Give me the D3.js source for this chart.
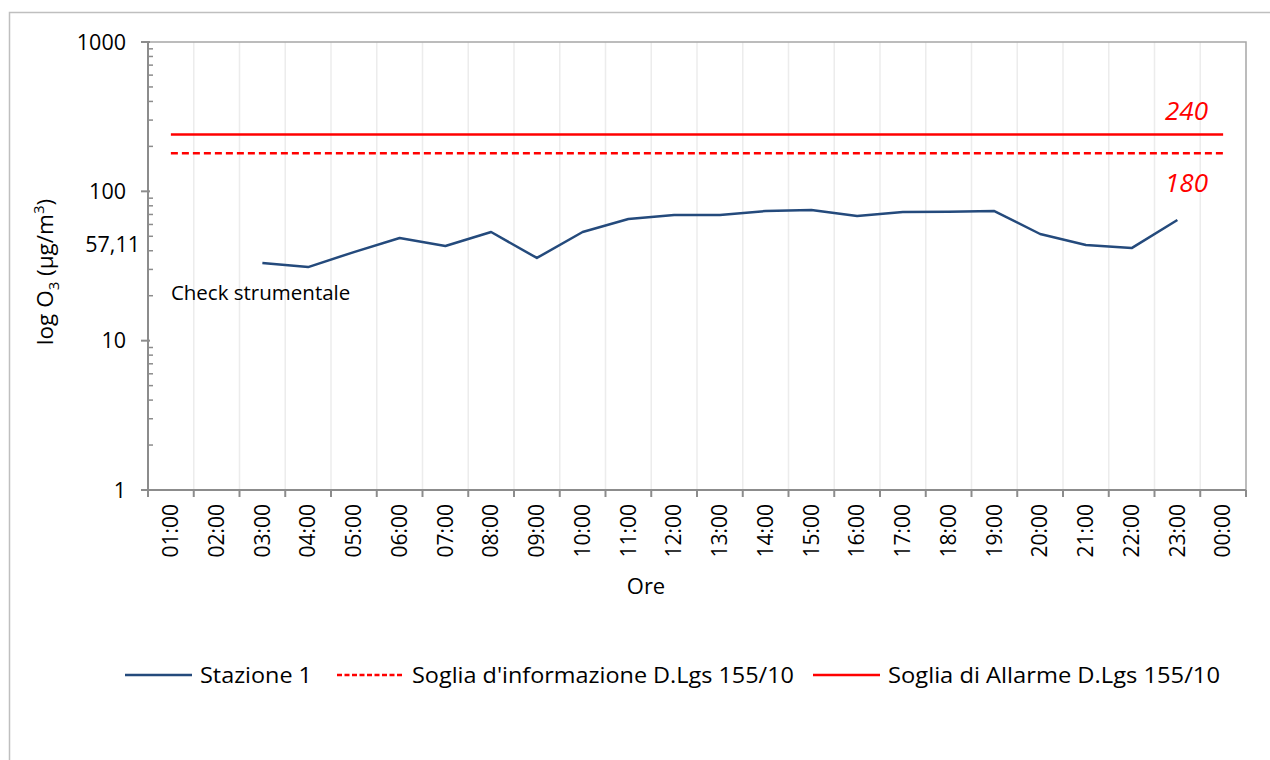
<!DOCTYPE html>
<html>
<head>
<meta charset="utf-8">
<script src="https://cdn.jsdelivr.net/npm/d3@7"></script>
<style>
  body { margin: 0; background: #fff; }
  svg { display: block; font-family: "Open Sans", sans-serif; }
</style>
</head>
<body>
<div id="chart"></div>
<script>
// ozone hourly values, log scale chart

var hours = ["01:00","02:00","03:00","04:00","05:00","06:00","07:00","08:00","09:00","10:00","11:00","12:00",
             "13:00","14:00","15:00","16:00","17:00","18:00","19:00","20:00","21:00","22:00","23:00","00:00"];

// null = no data (instrument check)
var stazione1 = [null, null, 33.1, 31.1, 39.2, 48.7, 43.0, 53.4, 35.8, 53.4, 65.3, 69.4,
                 69.4, 73.8, 75.0, 68.4, 72.7, 73.0, 73.8, 51.8, 43.7, 41.7, 64.3, null];

var sogliaInfo = 180,
    sogliaAllarme = 240,
    media = 57.11;

var yTicks = [1, 10, 100, 1000];

var width = 1270,
    height = 760,
    margin = {top: 42, right: 24, bottom: 270, left: 148};

var svg = d3.select("#chart").append("svg")
    .attr("width", width)
    .attr("height", height);

// outer chart frame (runs off the right/bottom of the picture)
svg.append("rect")
    .attr("x", 9.5).attr("y", 12.5)
    .attr("width", 1280).attr("height", 800)
    .attr("fill", "none")
    .attr("stroke", "#bfbfbf")
    .attr("stroke-width", 1.5);

var x = d3.scaleBand()
    .domain(hours)
    .range([margin.left, width - margin.right]);

var y = d3.scaleLog()
    .domain([1, 1000])
    .range([height - margin.bottom, margin.top]);

var x0 = x.range()[0], x1 = x.range()[1],
    yb = y.range()[0], yt = y.range()[1];

// vertical gridlines
svg.append("g")
  .selectAll("line")
  .data(hours.slice(1))
  .enter().append("line")
    .attr("x1", d => x(d)).attr("x2", d => x(d))
    .attr("y1", yt).attr("y2", yb)
    .attr("stroke", "#ececec")
    .attr("stroke-width", 1.5);

// plot frame top + right
svg.append("path")
    .attr("d", "M" + x0 + "," + yt + "H" + x1 + "V" + yb)
    .attr("fill", "none")
    .attr("stroke", "#a6a6a6")
    .attr("stroke-width", 1.5);

// y axis: major ticks outside, minor ticks inside
var minor = [];
for (var dec = 1; dec < 1000; dec *= 10) {
  for (var m = 2; m <= 9; m++) minor.push(dec * m);
}

var yAxis = svg.append("g");
yAxis.append("line")
    .attr("x1", x0).attr("x2", x0).attr("y1", yt).attr("y2", yb)
    .attr("stroke", "#8c8c8c").attr("stroke-width", 2);
yAxis.selectAll(".major")
  .data(yTicks)
  .enter().append("line")
    .attr("x1", x0 - 7).attr("x2", x0 + 2)
    .attr("y1", d => y(d)).attr("y2", d => y(d))
    .attr("stroke", "#8c8c8c").attr("stroke-width", 2);
yAxis.selectAll(".minor")
  .data(minor)
  .enter().append("line")
    .attr("x1", x0).attr("x2", x0 + 5)
    .attr("y1", d => y(d)).attr("y2", d => y(d))
    .attr("stroke", "#8c8c8c").attr("stroke-width", 1.5);
yAxis.selectAll("text")
  .data(yTicks)
  .enter().append("text")
    .attr("x", x0 - 22)
    .attr("y", d => y(d))
    .attr("dy", "0.35em")
    .attr("text-anchor", "end")
    .attr("font-size", 21.5)
    .attr("fill", "#000")
    .text(d => d);

// mean value label on the axis
svg.append("text")
    .attr("x", x0 - 8)
    .attr("y", y(media) + 17)
    .attr("dy", "0.35em")
    .attr("text-anchor", "end")
    .attr("font-size", 21.5)
    .text(d3.format(".2f")(media).replace(".", ","));

// x axis
var xAxis = svg.append("g");
xAxis.append("line")
    .attr("x1", x0 - 7).attr("x2", x1).attr("y1", yb).attr("y2", yb)
    .attr("stroke", "#8c8c8c").attr("stroke-width", 2);
xAxis.selectAll(".tick")
  .data(hours.concat(["end"]))
  .enter().append("line")
    .attr("x1", (d, i) => x0 + i * x.step())
    .attr("x2", (d, i) => x0 + i * x.step())
    .attr("y1", yb).attr("y2", yb + 7)
    .attr("stroke", "#8c8c8c").attr("stroke-width", 2);
xAxis.selectAll("text")
  .data(hours)
  .enter().append("text")
    .attr("transform", d => "translate(" + (x(d) + x.bandwidth() / 2) + "," + (yb + 14) + ") rotate(-90)")
    .attr("dy", "0.35em")
    .attr("text-anchor", "end")
    .attr("font-size", 21)
    .text(d => d);

// axis titles
svg.append("text")
    .attr("x", 646)
    .attr("y", 594)
    .attr("text-anchor", "middle")
    .attr("font-size", 22)
    .text("Ore");

var yt_ = svg.append("text")
    .attr("transform", "translate(53,272) rotate(-90)")
    .attr("text-anchor", "middle")
    .attr("font-size", 22.5);
yt_.append("tspan").text("log O");
yt_.append("tspan").attr("font-size", 15).attr("dy", 6).text("3");
yt_.append("tspan").attr("dy", -6).text(" (µg/m");
yt_.append("tspan").attr("font-size", 15).attr("dy", -9).text("3");
yt_.append("tspan").attr("dy", 9).text(")");

// threshold lines
var cx = d => x(d) + x.bandwidth() / 2;
var first = hours[0], last = hours[hours.length - 1];

svg.append("line")
    .attr("x1", cx(first)).attr("x2", cx(last))
    .attr("y1", y(sogliaAllarme)).attr("y2", y(sogliaAllarme))
    .attr("stroke", "#ff0000").attr("stroke-width", 2.5);
svg.append("line")
    .attr("x1", cx(first)).attr("x2", cx(last))
    .attr("y1", y(sogliaInfo)).attr("y2", y(sogliaInfo))
    .attr("stroke", "#ff0000").attr("stroke-width", 2.5)
    .attr("stroke-dasharray", "7,4");

svg.append("text")
    .attr("x", 1208).attr("y", y(sogliaAllarme) - 15)
    .attr("text-anchor", "end")
    .attr("font-size", 26).attr("font-style", "italic")
    .attr("fill", "#ff0000")
    .text(sogliaAllarme);
svg.append("text")
    .attr("x", 1208).attr("y", y(sogliaInfo) + 39)
    .attr("text-anchor", "end")
    .attr("font-size", 26).attr("font-style", "italic")
    .attr("fill", "#ff0000")
    .text(sogliaInfo);

// station line
var line = d3.line()
    .defined(d => d.v != null)
    .x(d => cx(d.h))
    .y(d => y(d.v));

svg.append("path")
    .datum(hours.map((h, i) => ({h: h, v: stazione1[i]})))
    .attr("d", line)
    .attr("fill", "none")
    .attr("stroke", "#244a7c")
    .attr("stroke-width", 2.5)
    .attr("stroke-linejoin", "round");

svg.append("text")
    .attr("x", cx(first))
    .attr("y", 300)
    .attr("font-size", 20.5)
    .text("Check strumentale");

// legend
var legend = [
  {label: "Stazione 1", color: "#244a7c", dash: null, x: 125, w: 112},
  {label: "Soglia d'informazione D.Lgs 155/10", color: "#ff0000", dash: "5,2.5", x: 337, w: 382},
  {label: "Soglia di Allarme D.Lgs 155/10", color: "#ff0000", dash: null, x: 813, w: 332}
];

var lg = svg.selectAll(".legend")
  .data(legend)
  .enter().append("g")
    .attr("transform", d => "translate(" + d.x + ",675)");
lg.append("line")
    .attr("x1", 0).attr("x2", 67)
    .attr("stroke", d => d.color)
    .attr("stroke-width", 2.5)
    .attr("stroke-dasharray", d => d.dash);
lg.append("text")
    .attr("x", 75)
    .attr("dy", "0.35em")
    .attr("font-size", 22)
    .attr("textLength", d => d.w)
    .attr("lengthAdjust", "spacingAndGlyphs")
    .text(d => d.label);
</script>
</body>
</html>
